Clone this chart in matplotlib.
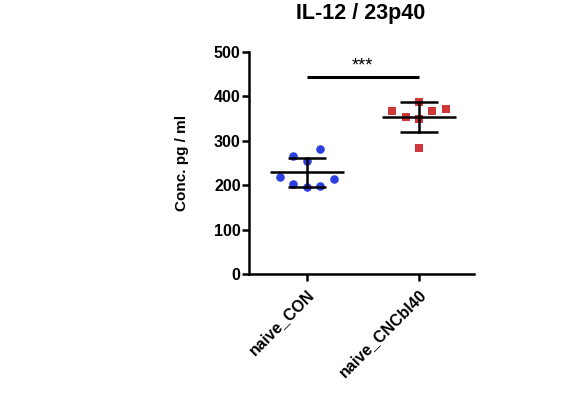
import matplotlib
matplotlib.use("Agg")
import matplotlib.pyplot as plt
import numpy as np

plt.rcParams['font.family'] = ['Liberation Sans', 'DejaVu Sans']
plt.rcParams['font.weight'] = 'bold'

title = "IL-12 / 23p40"
ylabel = "Conc. pg / ml"
categories = ["naive_CON", "naive_CNCbl40"]

con_values = [266, 281, 254, 219, 215, 203, 195, 198]
con_offsets = [-0.12, 0.12, 0.0, -0.24, 0.24, -0.12, 0.0, 0.12]
cncbl_values = [366, 353, 388, 348, 366, 371, 283]
cncbl_offsets = [-0.24, -0.12, 0.0, 0.0, 0.12, 0.24, 0.0]

sig_label = "***"
sig_level = 444

yticks = [0, 100, 200, 300, 400, 500]

blue = '#2b3fe0'
red = '#d0363a'

fig = plt.figure(figsize=(5.8, 3.94), dpi=100)
ax = fig.add_axes([249/580, 1-274/394, 225/580, 222/394])

groups = [(con_values, con_offsets, blue, 'o', 38), (cncbl_values, cncbl_offsets, red, 's', 30)]
for i, (vals, offs, col, mk, sz) in enumerate(groups):
    xs = [i + o for o in offs]
    ax.scatter(xs, vals, s=sz, color=col, marker=mk, zorder=2, linewidths=0)
    m = np.mean(vals)
    sd = np.std(vals, ddof=1)
    ax.plot([i-0.33, i+0.33], [m, m], color='black', lw=1.8, zorder=3, solid_capstyle='butt')
    ax.plot([i, i], [m-sd, m+sd], color='black', lw=1.8, zorder=3)
    for y in (m-sd, m+sd):
        ax.plot([i-0.17, i+0.17], [y, y], color='black', lw=1.8, zorder=3, solid_capstyle='butt')

ax.plot([0, 1], [sig_level, sig_level], color='black', lw=2.2, solid_capstyle='butt')
ax.text(0.5, 459, sig_label, ha='center', va='baseline', fontsize=13, fontweight='normal')

ax.set_xlim(-0.514, 1.49)
ax.set_ylim(0, 500)
ax.set_yticks(yticks)
ax.set_xticks(range(len(categories)))
ax.set_xticklabels(categories, rotation=45, ha='right', rotation_mode='anchor', fontsize=11.5, fontweight='bold')
for lab in ax.get_yticklabels():
    lab.set_fontsize(11.5)
    lab.set_fontweight('bold')

for s in ['top', 'right']:
    ax.spines[s].set_visible(False)
for s in ['left', 'bottom']:
    ax.spines[s].set_linewidth(1.8)
ax.tick_params(axis='both', width=1.8, length=5)
ax.tick_params(axis='y', pad=1)
ax.tick_params(axis='x', pad=4)

ax.set_ylabel(ylabel, fontsize=11, fontweight='bold')
ax.yaxis.set_label_coords(-0.267, 0.5)

fig.text(361/580, 1-13/394, title, ha='center', va='center', fontsize=15.5, fontweight='bold')

fig.savefig("out.png", dpi=100)
